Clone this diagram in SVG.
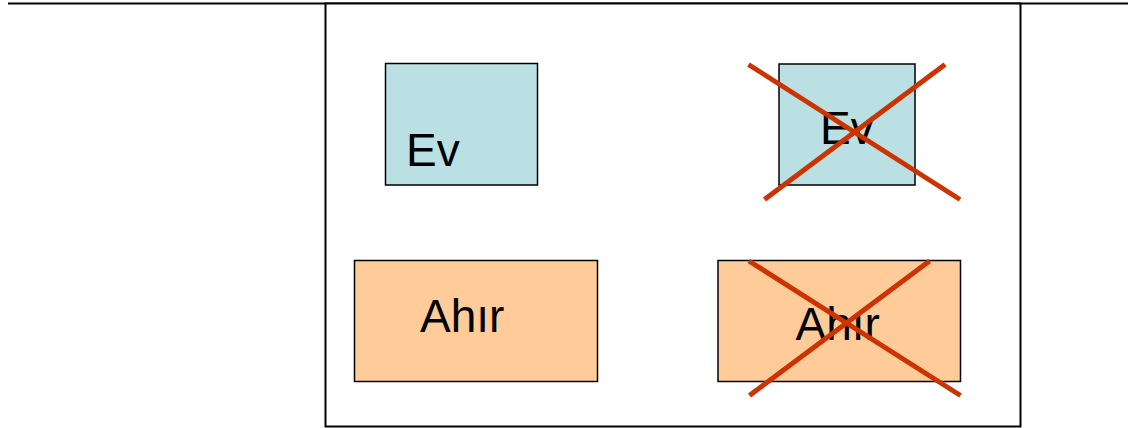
<svg xmlns="http://www.w3.org/2000/svg" width="1128" height="428" viewBox="0 0 1128 428">
  <style>
    .frame { fill: #ffffff; stroke: #000000; stroke-width: 2; }
    .box { stroke: #000000; stroke-width: 1.5; }
    .ev { fill: #bbe0e3; }
    .ahir { fill: #ffcc99; }
    .label { font-family: "Liberation Sans", Arial, sans-serif; font-size: 46px; fill: #000000; }
    .cross { stroke: #cc3300; stroke-width: 5; stroke-linecap: butt; }
  </style>
  <rect width="1128" height="428" fill="#ffffff"/>
  <!-- header rule and outer frame -->
  <line x1="8" y1="3.5" x2="1128" y2="3.5" stroke="#000000" stroke-width="2"/>
  <rect class="frame" x="325.5" y="3.5" width="695" height="423"/>

  <g id="ev-left">
    <rect class="box ev" x="385.5" y="63.5" width="152" height="121.5"/>
    <text class="label" x="406" y="165.5">Ev</text>
  </g>

  <g id="ev-right">
    <rect class="box ev" x="779" y="64" width="136" height="121"/>
    <text class="label" x="820" y="143.5">Ev</text>
  </g>

  <g id="ahir-left">
    <rect class="box ahir" x="354.5" y="260.5" width="243" height="121"/>
    <text class="label" x="420" y="331.5">Ahır</text>
  </g>

  <g id="ahir-right">
    <rect class="box ahir" x="718" y="260.5" width="242.5" height="121"/>
    <text class="label" x="795.5" y="339.5">Ahır</text>
  </g>

  <!-- strike-through crosses -->
  <g id="connectors">
    <line class="cross" x1="748.5" y1="64.5" x2="960" y2="199.5"/>
    <line class="cross" x1="945" y1="64.5" x2="764.5" y2="199.5"/>
    <line class="cross" x1="749" y1="261" x2="960.5" y2="395.5"/>
    <line class="cross" x1="929.5" y1="261" x2="749.5" y2="395.5"/>
  </g>
</svg>
